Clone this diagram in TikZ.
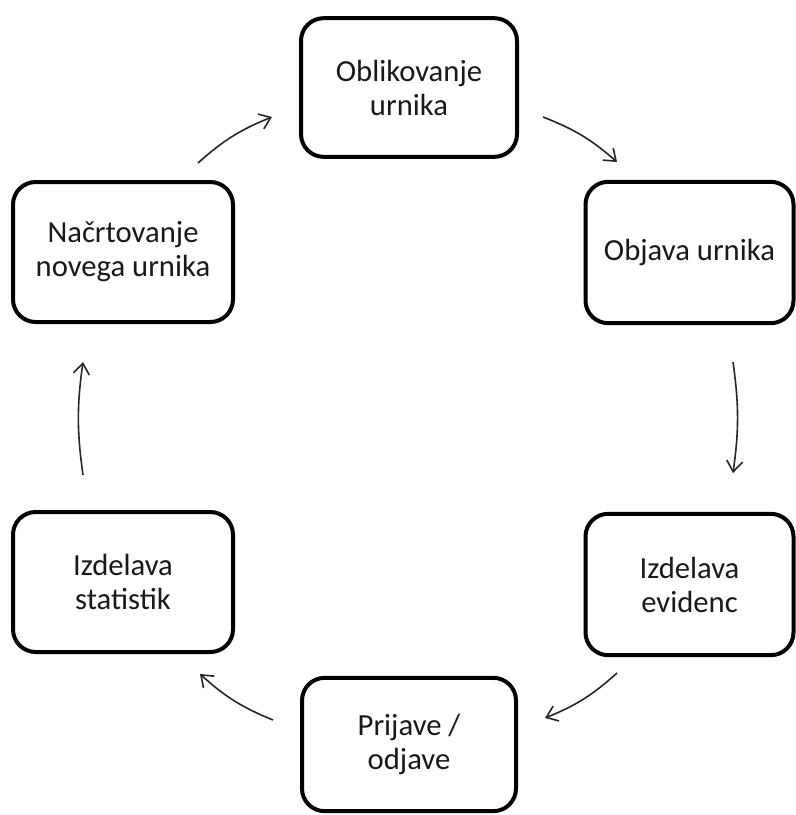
\documentclass[tikz,border=0pt]{standalone}
\usepackage{fontspec}
\setmainfont{Carlito}
\usetikzlibrary{arrows.meta,calc}

\tikzset{
  stage/.style={draw=black, line width=3pt, rounded corners=17pt, fill=white,
    align=center, font=\fontsize{23pt}{25.5pt}\selectfont, text=black!90,
    inner sep=0pt},
  flow/.style={draw=black!85, line width=1.2pt,
    -{Straight Barb[length=8pt, width=12pt, line width=1.2pt]}},
}

\begin{document}
\begin{tikzpicture}[x=0.75pt, y=-0.75pt]
  \useasboundingbox (0,0) rectangle (796,815);

  % the six stages of the cycle
  \node[stage, minimum width=162pt, minimum height=104pt] (shape) at (409,87.5)
    {Oblikovanje\\urnika};
  \node[stage, minimum width=156pt, minimum height=106pt] (publish) at (689.5,252.5)
    {Objava urnika};
  \node[stage, minimum width=156pt, minimum height=106pt] (records) at (689.5,584.5)
    {Izdelava\\evidenc};
  \node[stage, minimum width=160.5pt, minimum height=100pt] (signup) at (409,744.5)
    {Prijave /\\odjave};
  \node[stage, minimum width=165pt, minimum height=105pt] (stats) at (123,582)
    {Izdelava\\statistik};
  \node[stage, minimum width=165pt, minimum height=105pt] (plan) at (123,252)
    {Načrtovanje\\novega urnika};

  % arrow end points, kept clear of the boxes
  \coordinate (a1) at ($(plan)+(75,-89)$);
  \coordinate (b1) at ($(shape)+(-137,29.5)$);
  \coordinate (a2) at ($(shape)+(134,29.5)$);
  \coordinate (b2) at ($(publish)+(-72.5,-90.5)$);
  \coordinate (a3) at ($(publish)+(43.5,109.5)$);
  \coordinate (b3) at ($(records)+(43.5,-111.5)$);
  \coordinate (a4) at ($(records)+(-72.5,88.5)$);
  \coordinate (b4) at ($(signup)+(136,-26.5)$);
  \coordinate (a5) at ($(signup)+(-136,-24.5)$);
  \coordinate (b5) at ($(stats)+(77,92)$);
  \coordinate (a6) at ($(stats)+(-40,-107)$);
  \coordinate (b6) at ($(plan)+(-40,110)$);

  % clockwise connectors
  \draw[flow] (a1) to[bend left=10] (b1);
  \draw[flow] (a2) to[bend left=10] (b2);
  \draw[flow] (a3) to[bend left=8] (b3);
  \draw[flow] (a4) to[bend left=10] (b4);
  \draw[flow] (a5) to[bend left=10] (b5);
  \draw[flow] (a6) to[bend left=8] (b6);
\end{tikzpicture}
\end{document}
